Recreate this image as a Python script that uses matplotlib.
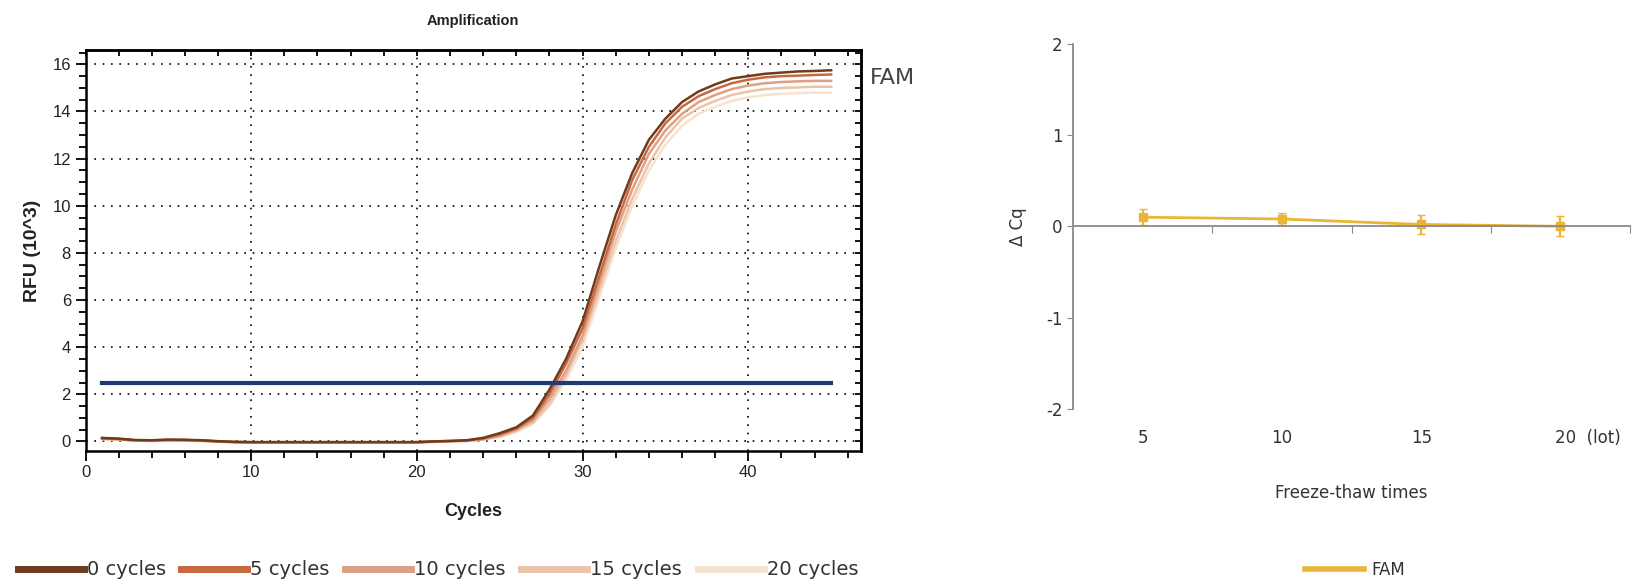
import matplotlib.pyplot as plt
import numpy as np

# amplification curves (RFU x10^3), cycles 1..45
cycles = list(range(1, 46))
labels = ["0 cycles", "5 cycles", "10 cycles", "15 cycles", "20 cycles"]
farbe = ["#6e3b1c", "#c9683d", "#dda084", "#ecc2aa", "#f6e3cf"]

rfu_0 = [0.15, 0.12, 0.06, 0.05, 0.08, 0.07, 0.05, 0.01, -0.02, -0.03,
         -0.03, -0.03, -0.03, -0.03, -0.03, -0.03, -0.03, -0.03, -0.03, -0.03,
         0.0, 0.02, 0.05, 0.15, 0.35, 0.6, 1.1, 2.2, 3.5, 5.1,
         7.4, 9.6, 11.4, 12.8, 13.7, 14.4, 14.85, 15.15, 15.4, 15.5,
         15.6, 15.65, 15.7, 15.72, 15.75]
rfu_5 = [0.13, 0.1, 0.05, 0.04, 0.06, 0.06, 0.04, 0.0, -0.02, -0.03,
         -0.03, -0.03, -0.03, -0.03, -0.03, -0.03, -0.03, -0.03, -0.03, -0.03,
         0.0, 0.02, 0.04, 0.12, 0.3, 0.55, 1.0, 2.0, 3.3, 4.8,
         7.0, 9.2, 11.1, 12.5, 13.5, 14.2, 14.65, 14.95, 15.2, 15.35,
         15.45, 15.5, 15.52, 15.55, 15.57]
rfu_10 = [0.12, 0.1, 0.04, 0.03, 0.05, 0.05, 0.03, 0.0, -0.03, -0.04,
          -0.04, -0.04, -0.04, -0.04, -0.04, -0.04, -0.04, -0.04, -0.04, -0.04,
          -0.01, 0.01, 0.03, 0.1, 0.25, 0.5, 0.9, 1.8, 3.0, 4.5,
          6.7, 8.9, 10.7, 12.2, 13.2, 13.9, 14.4, 14.7, 14.95, 15.1,
          15.2, 15.25, 15.28, 15.3, 15.3]
rfu_15 = [0.1, 0.08, 0.03, 0.02, 0.04, 0.04, 0.02, -0.01, -0.04, -0.05,
          -0.05, -0.05, -0.05, -0.05, -0.05, -0.05, -0.05, -0.05, -0.05, -0.05,
          -0.02, 0.0, 0.02, 0.08, 0.2, 0.45, 0.8, 1.6, 2.8, 4.3,
          6.4, 8.5, 10.3, 11.8, 12.9, 13.7, 14.15, 14.45, 14.7, 14.85,
          14.95, 15.0, 15.02, 15.05, 15.05]
rfu_20 = [0.1, 0.07, 0.03, 0.02, 0.03, 0.03, 0.02, -0.01, -0.04, -0.05,
          -0.05, -0.05, -0.05, -0.05, -0.05, -0.05, -0.05, -0.05, -0.05, -0.05,
          -0.02, 0.0, 0.02, 0.08, 0.2, 0.4, 0.75, 1.5, 2.6, 4.0,
          6.1, 8.2, 10.0, 11.5, 12.6, 13.4, 13.9, 14.2, 14.45, 14.6,
          14.7, 14.75, 14.78, 14.8, 14.8]
krivulje = [rfu_0, rfu_5, rfu_10, rfu_15, rfu_20]
prag = 2.5

# delta Cq after freeze-thaw
ft_labels = ["5", "10", "15", "20  (lot)"]
dcq = [0.10, 0.08, 0.02, 0.0]
dcq_err = [0.09, 0.07, 0.10, 0.11]

siva = "#333333"
gfont = "DejaVu Sans"

fig = plt.figure(figsize=(16.35, 5.84), dpi=100)

# ---- left: amplification
ax = fig.add_axes([0.0523, 0.228, 0.4743, 0.686])
crte = []
for y, c, l in reversed(list(zip(krivulje, farbe, labels))):
    crte.append(ax.plot(cycles, y, color=c, lw=1.8, label=l)[0])
crte = crte[::-1]
ax.plot([cycles[0], cycles[-1]], [prag, prag], color="#1d3b73", lw=3)

ax.set_xlim(0, 46.8)
ax.set_ylim(-0.4, 16.6)
ax.set_xticks(range(0, 41, 10))
ax.set_xticks(range(0, 47, 2), minor=True)
ax.set_yticks(range(0, 17, 2))
ax.set_yticks(np.arange(0, 16.6, 0.5), minor=True)
ax.grid(True, which="major", color="black", linestyle=(0, (1, 4)), lw=1.2)
ax.tick_params(which="both", direction="out", labelsize=12, width=1.3,
               labelcolor="#222222")
ax.tick_params(which="major", length=7)
ax.tick_params(which="minor", length=5)
for s in ax.spines.values():
    s.set_linewidth(1.8)
for t in ax.get_xticklabels() + ax.get_yticklabels():
    t.set_family("Liberation Sans")

# inward ticks on top and right
top = ax.secondary_xaxis("top")
top.set_xticks(range(0, 41, 10), labels=[])
top.set_xticks(range(0, 47, 2), minor=True)
top.tick_params(which="both", direction="in", width=1.3, length=4)
right = ax.secondary_yaxis("right")
right.set_yticks(range(0, 17, 2), labels=[])
right.set_yticks(np.arange(0, 16.6, 0.5), minor=True)
right.tick_params(which="both", direction="in", width=1.3, length=4)
top.spines["top"].set_linewidth(1.8)
right.spines["right"].set_linewidth(1.8)

ax.set_title("Amplification", fontsize=10.5, fontweight="bold",
             family="Liberation Sans", pad=18, color="#222222")
ax.set_xlabel("Cycles", fontsize=13, fontweight="bold",
              family="Liberation Sans", labelpad=16, color="#222222")
ax.set_ylabel("RFU (10^3)", fontsize=14, fontweight="bold",
              family="Liberation Sans", labelpad=8, color="#222222")
fig.text(0.532, 1 - 78 / 584, "FAM", fontsize=16, family=gfont,
         color="#444444", va="center")

leg = fig.legend(crte, labels, loc="center left", ncol=5,
                 bbox_to_anchor=(0.0, 0.024), frameon=False,
                 handlelength=3.4, handletextpad=0.15, columnspacing=0.8,
                 prop={"family": gfont, "size": 14})
for ln in leg.get_lines():
    ln.set_linewidth(5)
for t in leg.get_texts():
    t.set_color(siva)

# ---- right: delta Cq
ax2 = fig.add_axes([0.6563, 0.300, 0.3407, 0.625])
x = np.arange(len(dcq))
eb = ax2.errorbar(x, dcq, yerr=dcq_err, color="#e9b535", lw=2, marker="s",
                  ms=6, capsize=3, elinewidth=1.5, label="FAM")
ax2.set_xlim(-0.5, 3.5)
ax2.set_ylim(-2, 2)
ax2.set_yticks([-2, -1, 0, 1, 2])
ax2.set_yticklabels(["-2", "-1", "0", "1", "2"])
ax2.spines["top"].set_visible(False)
ax2.spines["right"].set_visible(False)
ax2.spines["bottom"].set_position(("data", 0))
for s in ["left", "bottom"]:
    ax2.spines[s].set_color("#8a8a8a")
    ax2.spines[s].set_linewidth(1.3)
ax2.set_xticks(x + 0.5)
ax2.set_xticklabels([])
ax2.tick_params(axis="x", direction="out", length=5, color="#8a8a8a")
ax2.tick_params(axis="y", direction="out", length=4, color="#8a8a8a",
                labelsize=12, labelcolor=siva)
for t in ax2.get_yticklabels():
    t.set_family(gfont)
for i, lab in enumerate(ft_labels):
    ax2.text(i + (0.2 if "lot" in lab else 0), -2.32, lab, ha="center",
             va="center", fontsize=12, family=gfont, color=siva,
             clip_on=False)
ax2.text(1.5, -2.92, "Freeze-thaw times", ha="center", va="center",
         fontsize=12, family=gfont, color=siva, clip_on=False)
ax2.set_ylabel("Δ Cq", fontsize=12, family=gfont, color=siva, labelpad=14)

leg2 = fig.legend([eb.lines[0]], ["FAM"], loc="center",
                  bbox_to_anchor=(0.829, 0.024), frameon=False,
                  handlelength=3.5, handletextpad=0.5,
                  prop={"family": gfont, "size": 12})
for ln in leg2.get_lines():
    ln.set_linewidth(4)
    ln.set_marker("")
for t in leg2.get_texts():
    t.set_color(siva)

fig.savefig("out.png", dpi=100)
